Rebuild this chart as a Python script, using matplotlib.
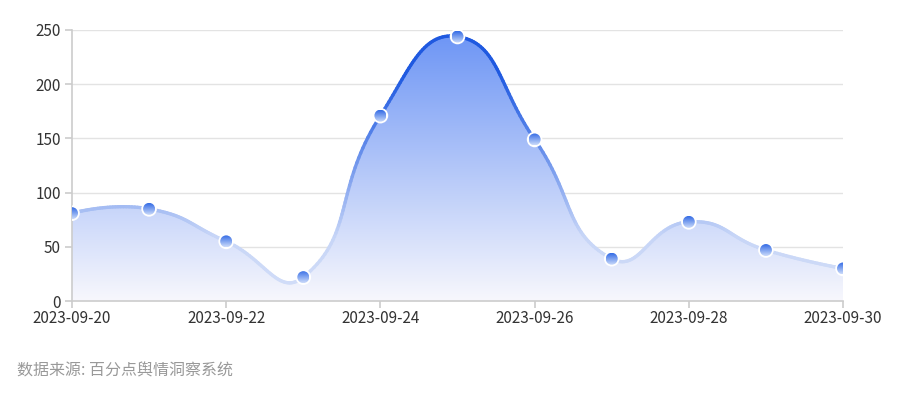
import numpy as np
import matplotlib.pyplot as plt
from matplotlib.path import Path
from matplotlib.patches import PathPatch, Circle
from matplotlib.collections import LineCollection
from matplotlib.transforms import ScaledTranslation

plt.rcParams['font.family'] = ['Noto Sans CJK SC', 'DejaVu Sans']

dates = ['2023-09-20', '2023-09-21', '2023-09-22', '2023-09-23', '2023-09-24', '2023-09-25',
         '2023-09-26', '2023-09-27', '2023-09-28', '2023-09-29', '2023-09-30']
values = [81, 85, 55, 22, 171, 244, 149, 39, 73, 47, 30]
source = '数据来源: 百分点舆情洞察系统'


def smooth_curve(xs, ys, sx, sy, smooth=0.5, steps=40):
    # echarts-like bezier smoothing, distances taken in pixel space
    px = np.array(xs, float) * sx
    py = np.array(ys, float) * sy
    n = len(px)
    cps = []
    for i in range(n):
        if i == 0 or i == n - 1:
            cps.append((np.array([px[i], py[i]]), np.array([px[i], py[i]])))
            continue
        v = np.array([px[i + 1] - px[i - 1], py[i + 1] - py[i - 1]])
        d0 = np.hypot(px[i] - px[i - 1], py[i] - py[i - 1])
        d1 = np.hypot(px[i + 1] - px[i], py[i + 1] - py[i])
        s = d0 + d1
        p = np.array([px[i], py[i]])
        cps.append((p - v * smooth * d0 / s, p + v * smooth * d1 / s))
    t = np.linspace(0, 1, steps)[:, None]
    out = []
    for i in range(n - 1):
        p0 = np.array([px[i], py[i]])
        p3 = np.array([px[i + 1], py[i + 1]])
        p1, p2 = cps[i][1], cps[i + 1][0]
        b = ((1 - t) ** 3) * p0 + 3 * ((1 - t) ** 2) * t * p1 + 3 * (1 - t) * t ** 2 * p2 + t ** 3 * p3
        out.append(b if i == 0 else b[1:])
    out = np.vstack(out)
    return np.column_stack([out[:, 0] / sx, out[:, 1] / sy])


x = np.arange(len(values))
fig = plt.figure(figsize=(9, 4), dpi=100)
ax = fig.add_axes([0.08, 0.2475, 0.8567, 0.6775])
ax.set_xlim(0, len(values) - 1)
ax.set_ylim(0, 250)

pts = smooth_curve(x, values, 77.1, 1.084)

# gradient fill under curve
poly = np.vstack([pts, [[x[-1], 0], [x[0], 0], pts[0]]])
patch = PathPatch(Path(poly, closed=True), facecolor='none', edgecolor='none')
ax.add_patch(patch)
top = np.array([0.42, 0.58, 0.96])
bottom = np.array([0.97, 0.97, 0.99])
t = np.linspace(0, 1, 256)[:, None]
grad = np.clip(bottom + (top - bottom) * t, 0, 1)[:, None, :]
im = ax.imshow(grad, extent=[x[0], x[-1], 0, 250], origin='lower', aspect='auto', zorder=1)
im.set_clip_path(patch)

# line colour: light blue at low values, strong blue near the top
segs = np.stack([pts[:-1], pts[1:]], axis=1)
ymid = (pts[:-1, 1] + pts[1:, 1]) / 2
a = np.clip((ymid - 60) / 150, 0, 1)[:, None]
fillc = bottom + (top - bottom) * (ymid[:, None] / 250)
lightc = np.array([0.74, 0.81, 0.96])
base = fillc * 0.4 + lightc * 0.6
linec = np.array([0.12, 0.35, 0.88])
cols = np.clip(base + (linec - base) * a, 0, 1)
ax.add_collection(LineCollection(segs, colors=cols, linewidths=2.4, zorder=2, capstyle='round'))

# gradient markers
mgrad = np.linspace(0, 1, 64)[:, None]
mtop = np.array([0.20, 0.42, 0.90])
mbot = np.array([0.80, 0.86, 0.98])
mimg = (mbot + (mtop - mbot) * mgrad)[:, None, :]
for xi, yi in zip(x, values):
    tr = fig.dpi_scale_trans + ScaledTranslation(xi, yi, ax.transData)
    ax.add_patch(Circle((0, 0), 0.078, transform=tr, facecolor='white', edgecolor='none', zorder=3))
    c = Circle((0, 0), 0.06, transform=tr, facecolor='none', edgecolor='none', zorder=4)
    ax.add_patch(c)
    mi = ax.imshow(mimg, extent=[-0.06, 0.06, -0.06, 0.06], origin='lower', transform=tr,
                   aspect='auto', zorder=4, interpolation='bilinear')
    mi.set_clip_path(c)

ax.set_xlim(0, len(values) - 1)
ax.set_ylim(0, 250)
ax.set_yticks([0, 50, 100, 150, 200, 250])
ax.set_xticks(x[::2])
ax.set_xticklabels(dates[::2])
ax.grid(axis='y', color='#e3e3e3', linewidth=1)
ax.set_axisbelow(True)
for s in ['top', 'right']:
    ax.spines[s].set_visible(False)
for s in ['left', 'bottom']:
    ax.spines[s].set_color('#cccccc')
    ax.spines[s].set_linewidth(1.2)
ax.tick_params(axis='both', colors='#cccccc', labelcolor='#333333', labelsize=11, length=5, width=1.2)
ax.tick_params(axis='x', pad=1.5)
ax.tick_params(axis='y', pad=3)

fig.text(17 / 900, 1 - 371 / 400, source, fontsize=11.5, color='#999999', va='center')

fig.savefig('out.png', dpi=100)
